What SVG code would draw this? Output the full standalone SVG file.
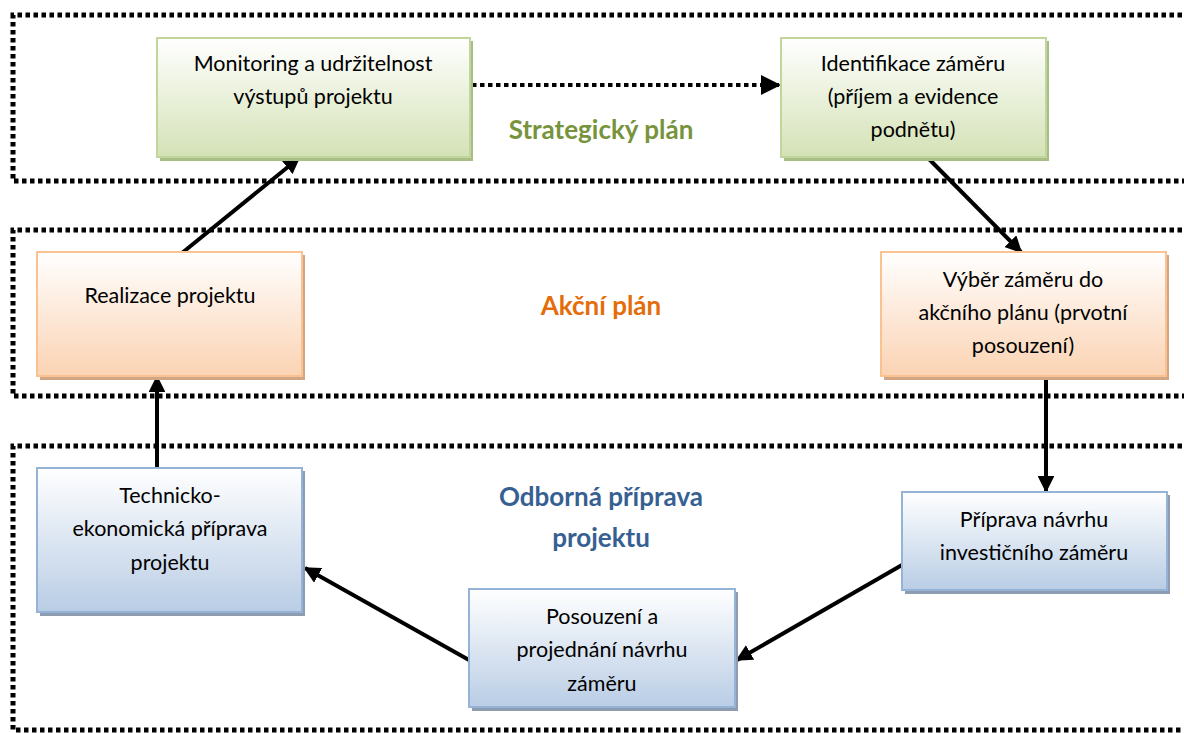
<svg xmlns="http://www.w3.org/2000/svg" width="1184" height="733" viewBox="0 0 1184 733">
<defs>
<linearGradient id="gG" x1="0" y1="0" x2="0" y2="1"><stop offset="0" stop-color="#ffffff"/><stop offset="1" stop-color="#d4e2b6"/></linearGradient>
<linearGradient id="gO" x1="0" y1="0" x2="0" y2="1"><stop offset="0" stop-color="#ffffff"/><stop offset="1" stop-color="#fbd3b3"/></linearGradient>
<linearGradient id="gB" x1="0" y1="0" x2="0" y2="1"><stop offset="0" stop-color="#ffffff"/><stop offset="1" stop-color="#b9cde5"/></linearGradient>
<marker id="ah" viewBox="0 0 10 10" refX="9" refY="5" markerWidth="4.2" markerHeight="4.2" orient="auto" markerUnits="strokeWidth"><path d="M0,0 L10,5 L0,10 z" fill="#000"/></marker>
<marker id="ah2" viewBox="0 0 10 10" refX="9" refY="5" markerWidth="5" markerHeight="5" orient="auto" markerUnits="strokeWidth"><path d="M0,0 L10,5 L0,10 z" fill="#000"/></marker>
</defs>
<style>
.zone{fill:none;stroke:#000;stroke-width:5;stroke-dasharray:4.5 3.5}
.t{font-family:Lato,"Open Sans","Liberation Sans",sans-serif;font-size:21.5px;fill:#000;text-anchor:middle}
.lbl{font-family:Lato,"Open Sans","Liberation Sans",sans-serif;font-size:26px;font-weight:bold;text-anchor:middle}
.g{fill:url(#gG);stroke:#c2d69b;stroke-width:2}
.gs{fill:#a9bd87}
.o{fill:url(#gO);stroke:#fac191;stroke-width:2}
.os{fill:#d2a584}
.b{fill:url(#gB);stroke:#95b3d7;stroke-width:2}
.bs{fill:#8d9cb0}
.c{stroke:#000;stroke-width:4;fill:none;marker-end:url(#ah)}
</style>
<rect width="1184" height="733" fill="#fff"/>
<g id="zones">
<path class="zone" d="M1190,15 L13,15 L13,181 L1190,181"/>
<path class="zone" d="M1190,230 L13,230 L13,396 L1190,396"/>
<path class="zone" d="M1190,446 L13,446 L13,730 L1190,730"/>
<text class="lbl" x="601" y="139" fill="#77933c">Strategický plán</text>
<text class="lbl" x="601" y="315" fill="#e46c0a">Akční plán</text>
<text class="lbl" x="601" y="506" fill="#376092">Odborná příprava</text>
<text class="lbl" x="601" y="547" fill="#376092">projektu</text>
</g>
<g id="connectors">
<line x1="472" y1="85" x2="779" y2="85" stroke="#000" stroke-width="4" stroke-dasharray="4.5 3.5" marker-end="url(#ah2)"/>
<line class="c" x1="182" y1="253" x2="299" y2="158"/>
<line class="c" x1="927" y1="157" x2="1021" y2="252"/>
<line class="c" x1="1046" y1="376" x2="1046" y2="491"/>
<line class="c" x1="902" y1="565" x2="737" y2="660"/>
<line class="c" x1="469" y1="660" x2="305" y2="568"/>
<line class="c" x1="157" y1="468" x2="157" y2="377"/>
</g>
<g id="n1">
<rect class="gs" x="160" y="41" width="313" height="120"/>
<rect class="g" x="157" y="38" width="313" height="119"/>
<text class="t" x="313" y="71">Monitoring a udržitelnost</text>
<text class="t" x="313" y="104">výstupů projektu</text>
</g>
<g id="n2">
<rect class="gs" x="784" y="41" width="265" height="120"/>
<rect class="g" x="781" y="38" width="265" height="119"/>
<text class="t" x="913" y="71">Identifikace záměru</text>
<text class="t" x="913" y="104">(příjem a evidence</text>
<text class="t" x="913" y="137">podnětu)</text>
</g>
<g id="n3">
<rect class="os" x="40" y="255" width="265" height="125"/>
<rect class="o" x="37" y="252" width="265" height="124"/>
<text class="t" x="170" y="303">Realizace projektu</text>
</g>
<g id="n4">
<rect class="os" x="884" y="255" width="285" height="125"/>
<rect class="o" x="881" y="252" width="285" height="124"/>
<text class="t" x="1023" y="287">Výběr záměru do</text>
<text class="t" x="1023" y="320">akčního plánu (prvotní</text>
<text class="t" x="1023" y="353">posouzení)</text>
</g>
<g id="n5">
<rect class="bs" x="905" y="495" width="265" height="99"/>
<rect class="b" x="902" y="492" width="265" height="98"/>
<text class="t" x="1034" y="527">Příprava návrhu</text>
<text class="t" x="1034" y="560">investičního záměru</text>
</g>
<g id="n6">
<rect class="bs" x="472" y="592" width="266" height="119"/>
<rect class="b" x="469" y="589" width="266" height="118"/>
<text class="t" x="602" y="624">Posouzení a</text>
<text class="t" x="602" y="657">projednání návrhu</text>
<text class="t" x="602" y="691">záměru</text>
</g>
<g id="n7">
<rect class="bs" x="40" y="471" width="265" height="145"/>
<rect class="b" x="37" y="468" width="265" height="144"/>
<text class="t" x="170" y="503">Technicko-</text>
<text class="t" x="170" y="536">ekonomická příprava</text>
<text class="t" x="170" y="570">projektu</text>
</g>
</svg>
